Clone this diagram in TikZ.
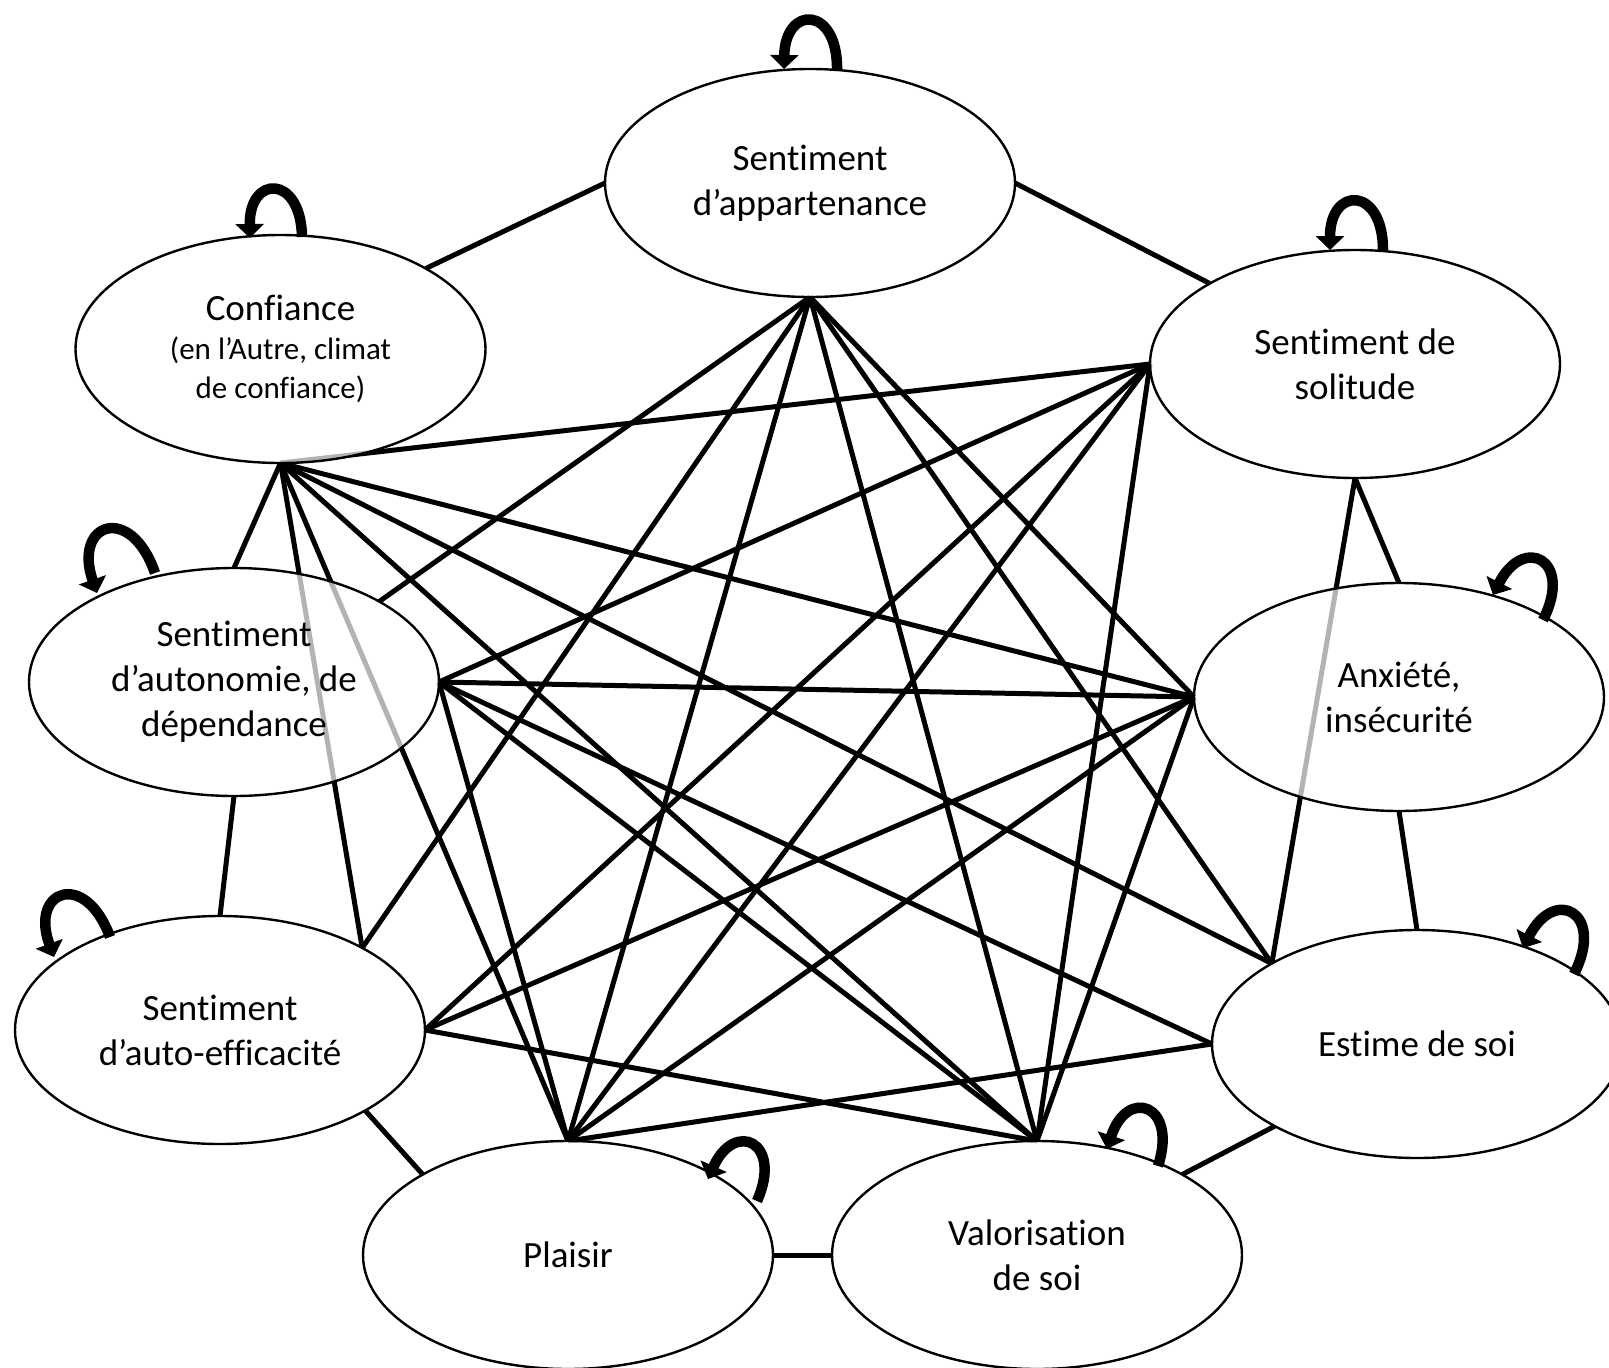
\documentclass[tikz,border=0pt]{standalone}
\usepackage{fontspec}
\setmainfont{Carlito}[Ligatures=CommonOff]
\usetikzlibrary{shapes.geometric,arrows.meta,calc,backgrounds}
\begin{document}
\begin{tikzpicture}[x=1pt,y=1pt,
  state/.style={ellipse, draw, line width=2.4pt, fill=white, fill opacity=0.7, text opacity=1,
    minimum width=410pt, minimum height=228pt, inner sep=0pt, outer sep=0pt,
    align=center, font=\fontsize{37}{45}\selectfont},
  link/.style={line width=5pt, black},
  selfloop/.style={line width=10.5pt, black, looseness=3.1, -{Triangle[width=28pt,length=14pt]}}
]
\useasboundingbox (0,0) rectangle (1609,-1368);

% nodes
\node[state] (A)  at (810,-183)   {Sentiment\\d’appartenance};
\node[state, font=\fontsize{31}{39}\selectfont] (C) at (280.5,-349)
   {{\fontsize{37}{45}\selectfont Confiance}\\(en l’Autre, climat\\de confiance)};
\node[state] (S)  at (1355,-364)  {Sentiment de\\solitude};
\node[state] (Au) at (234,-682)   {Sentiment\\d’autonomie, de\\dépendance};
\node[state] (X)  at (1399,-697)  {Anxiété,\\insécurité};
\node[state] (E)  at (220,-1030)  {Sentiment\\d’auto-efficacité};
\node[state] (Es) at (1417,-1044) {Estime de soi};
\node[state] (P)  at (568,-1255)  {Plaisir};
\node[state] (V)  at (1037,-1255) {Valorisation\\de soi};

\begin{pgfonlayer}{background}
% outer ring
\draw[link] (A.west) -- (C.29);
\draw[link] (A.east) -- (S.151);
\draw[link] (C.south) -- (Au.north);
\draw[link] (Au.south) -- (E.north);
\draw[link] (E.-29) -- (P.151);
\draw[link] (P.east) -- (V.west);
\draw[link] (V.29) -- (Es.210);
\draw[link] (Es.north) -- (X.south);
\draw[link] (X.north) -- (S.south);
% Confiance
\draw[link] (C.south) -- (S.west);
\draw[link] (C.south) -- (X.west);
\draw[link] (C.south) -- (Es.151);
\draw[link] (C.south) -- (V.north);
\draw[link] (C.south) -- (P.north);
\draw[link] (C.south) -- (E.30);
% Appartenance
\draw[link] (A.south) -- (Au.29);
\draw[link] (A.south) -- (E.30);
\draw[link] (A.south) -- (P.north);
\draw[link] (A.south) -- (V.north);
\draw[link] (A.south) -- (Es.151);
\draw[link] (A.south) -- (X.west);
% Solitude
\draw[link] (S.west) -- (Au.east);
\draw[link] (S.west) -- (E.east);
\draw[link] (S.west) -- (P.north);
\draw[link] (S.west) -- (V.north);
\draw[link] (S.south) -- (Es.151);
% Autonomie
\draw[link] (Au.east) -- (X.west);
\draw[link] (Au.east) -- (Es.west);
\draw[link] (Au.east) -- (V.north);
\draw[link] (Au.east) -- (P.north);
% Anxiete
\draw[link] (X.west) -- (E.east);
\draw[link] (X.west) -- (P.north);
\draw[link] (X.west) -- (V.north);
% others
\draw[link] (E.east) -- (V.north);
\draw[link] (P.north) -- (Es.west);
\end{pgfonlayer}

% self loops
\draw[selfloop] ($(A)+(27,113)$)   to[out=89,in=89]   ($(A)+(-26,114)$);
\draw[selfloop] ($(C)+(21.5,112)$) to[out=91,in=91]   ($(C)+(-30.5,111)$);
\draw[selfloop] ($(S)+(28,114)$)   to[out=90,in=90]   ($(S)+(-25,114)$);
\draw[selfloop] ($(X)+(144,77)$)   to[out=63,in=63]   ($(X)+(94,102)$);
\draw[selfloop] ($(Au)+(-79,109)$) to[out=109,in=109] ($(Au)+(-137,89)$);
\draw[selfloop] ($(E)+(-110,93)$)  to[out=110,in=110] ($(E)+(-166,73)$);
\draw[selfloop] ($(Es)+(157,70)$)  to[out=63,in=63]   ($(Es)+(106,96)$);
\draw[selfloop] ($(P)+(189,54)$)   to[out=66,in=66]   ($(P)+(140,76)$);
\draw[selfloop] ($(V)+(121,89)$)   to[out=72,in=72]   ($(V)+(70,106)$);
\end{tikzpicture}
\end{document}
